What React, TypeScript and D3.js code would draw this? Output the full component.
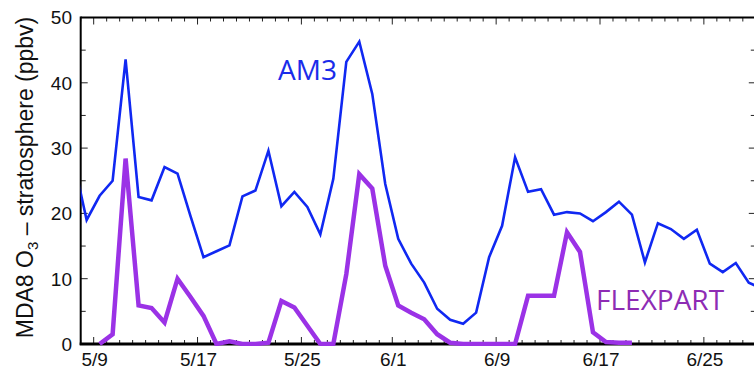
import React from "react";
import * as d3 from "d3";

const am3Days = [
  "5/7","5/8","5/9","5/10","5/11","5/12","5/13","5/14","5/15","5/16","5/17","5/18","5/19","5/20",
  "5/21","5/22","5/23","5/24","5/25","5/26","5/27","5/28","5/29","5/30","5/31",
  "6/1","6/2","6/3","6/4","6/5","6/6","6/7","6/8","6/9","6/10","6/11","6/12","6/13","6/14","6/15",
  "6/16","6/17","6/18","6/19","6/20","6/21","6/22","6/23","6/24","6/25","6/26","6/27","6/28","6/29",
];
const am3Values = [
  28.0, 19.0, 22.7, 25.0, 43.6, 22.5, 22.0, 27.1, 26.1, 19.6, 13.3, 14.2, 15.1, 22.6,
  23.5, 29.6, 21.1, 23.3, 21.0, 16.8, 25.3, 43.2, 46.3, 38.3, 24.5,
  16.1, 12.3, 9.4, 5.4, 3.7, 3.1, 4.8, 13.3, 18.1, 28.6, 23.3, 23.7, 19.8, 20.2, 20.0,
  18.8, 20.2, 21.8, 19.8, 12.5, 18.5, 17.6, 16.1, 17.5, 12.3, 11.0, 12.4, 9.4, 8.5,
];

const flexDays = [
  "5/9","5/10","5/11","5/12","5/13","5/14","5/15","5/16","5/17","5/18","5/19","5/20",
  "5/21","5/22","5/23","5/24","5/25","5/26","5/27","5/28","5/29","5/30","5/31",
  "6/1","6/2","6/3","6/4","6/5","6/6","6/7","6/8","6/9","6/10","6/11","6/12","6/13","6/14","6/15",
  "6/16","6/17","6/18","6/19",
];
const flexValues = [
  0, 1.5, 28.4, 5.9, 5.5, 3.3, 10.0, 7.2, 4.3, 0, 0.4, 0,
  0, 0.2, 6.6, 5.6, 2.8, 0, 0, 10.7, 26.0, 23.8, 12.0,
  5.9, 4.8, 3.8, 1.5, 0.2, 0, 0, 0, 0, 0, 7.4, 7.4, 7.4, 17.1, 14.1,
  1.8, 0.3, 0.2, 0.2,
];

const xTickLabels = ["5/9", "5/17", "5/25", "6/1", "6/9", "6/17", "6/25"];
const yTicks = [0, 10, 20, 30, 40, 50];
const xDomainDays = ["5/8", "6/29"];

const YEAR = 2010;
const parseDay = (s: string, hours = 0) => {
  const [m, d] = s.split("/").map(Number);
  return new Date(YEAR, m - 1, d, hours);
};
const POINT_HOUR = 11;

export default function App() {
  const W = 754, H = 370;
  const left = 80.7, right = 755.8, top = 17.5, bottom = 344;

  const x = d3.scaleTime()
    .domain([parseDay(xDomainDays[0]), parseDay(xDomainDays[1])])
    .range([left, right]);
  const y = d3.scaleLinear().domain([0, 50]).range([bottom, top]);

  type P = { date: Date; v: number };
  const am3: P[] = am3Days.map((d, i) => ({ date: parseDay(d, POINT_HOUR), v: am3Values[i] }));
  const flex: P[] = flexDays.map((d, i) => ({ date: parseDay(d, POINT_HOUR), v: flexValues[i] }));

  const line = d3.line<P>().x(d => x(d.date)).y(d => y(d.v));

  const dayTicks = d3.timeDay.range(parseDay(xDomainDays[0]), d3.timeDay.offset(parseDay(xDomainDays[1]), 1));
  const majorSet = new Set(xTickLabels.map(s => +parseDay(s)));
  const minorY = d3.range(0, 51, 5);

  const blue = "#1028f2";
  const purple = "#9b32e6";
  const tickFont = "'Liberation Sans', Arial, Helvetica, sans-serif";

  return (
    <svg width={W} height={H} style={{ position: "absolute", left: 0, top: 0, background: "#fff" }}>
      <defs>
        <clipPath id="plotclip">
          <rect x={left} y={top - 2} width={right - left} height={bottom - top + 4} />
        </clipPath>
      </defs>
      <rect x={0} y={0} width={W} height={H} fill="#fff" />

      {/* x ticks top & bottom */}
      {dayTicks.map((d, i) => {
        const major = majorSet.has(+d);
        const len = major ? 7 : 4;
        const xx = x(d);
        return (
          <g key={"xt" + i} stroke="#222" strokeWidth={1}>
            <line x1={xx} x2={xx} y1={top} y2={top + len} />
            <line x1={xx} x2={xx} y1={bottom} y2={bottom - len} />
          </g>
        );
      })}
      {/* y ticks left & right */}
      {minorY.map((v, i) => {
        const major = v % 10 === 0;
        const len = major ? 7 : 5;
        const yy = y(v);
        return (
          <g key={"yt" + i} stroke="#222" strokeWidth={1}>
            <line x1={left} x2={left + len} y1={yy} y2={yy} />
            <line x1={right} x2={right - len} y1={yy} y2={yy} />
          </g>
        );
      })}

      {/* frame */}
      <line x1={left} x2={W} y1={top} y2={top} stroke="#000" strokeWidth={2} />
      <line x1={left} x2={left} y1={top - 1} y2={bottom + 1} stroke="#000" strokeWidth={2} />
      <line x1={left - 1} x2={W} y1={bottom} y2={bottom} stroke="#000" strokeWidth={3} />
      <line x1={right} x2={right} y1={top} y2={bottom} stroke="#000" strokeWidth={2} />

      {/* y tick labels */}
      {yTicks.map(v => (
        <text key={"yl" + v} x={72} y={y(v)} dy="0.36em" textAnchor="end"
          fontFamily={tickFont} fontSize={19} fill="#111">{v}</text>
      ))}
      {/* x tick labels */}
      {xTickLabels.map(s => (
        <text key={"xl" + s} x={x(parseDay(s)) + 1} y={366} textAnchor="middle"
          fontFamily={tickFont} fontSize={19} fill="#111">{s}</text>
      ))}

      {/* y axis title */}
      <text transform="translate(33,177.5) rotate(-90)" textAnchor="middle"
        fontFamily={tickFont} fontSize={23} fill="#111">
        MDA8 O<tspan fontSize={15} dy={5}>3</tspan><tspan dy={-5}> – stratosphere (ppbv)</tspan>
      </text>

      {/* series */}
      <g clipPath="url(#plotclip)">
        <path d={line(flex) || ""} fill="none" stroke={purple} strokeWidth={4.5} strokeLinejoin="miter" />
        <path d={line(am3) || ""} fill="none" stroke={blue} strokeWidth={2.6} strokeLinejoin="miter" />
      </g>

      {/* labels */}
      <text x={278} y={80} fontFamily="'Open Sans', sans-serif" fontSize={28} fill="#1a2cea">AM3</text>
      <text x={596} y={310} fontFamily="'Open Sans', sans-serif" fontSize={28} fill="#8e2cb4">FLEXPART</text>
    </svg>
  );
}
